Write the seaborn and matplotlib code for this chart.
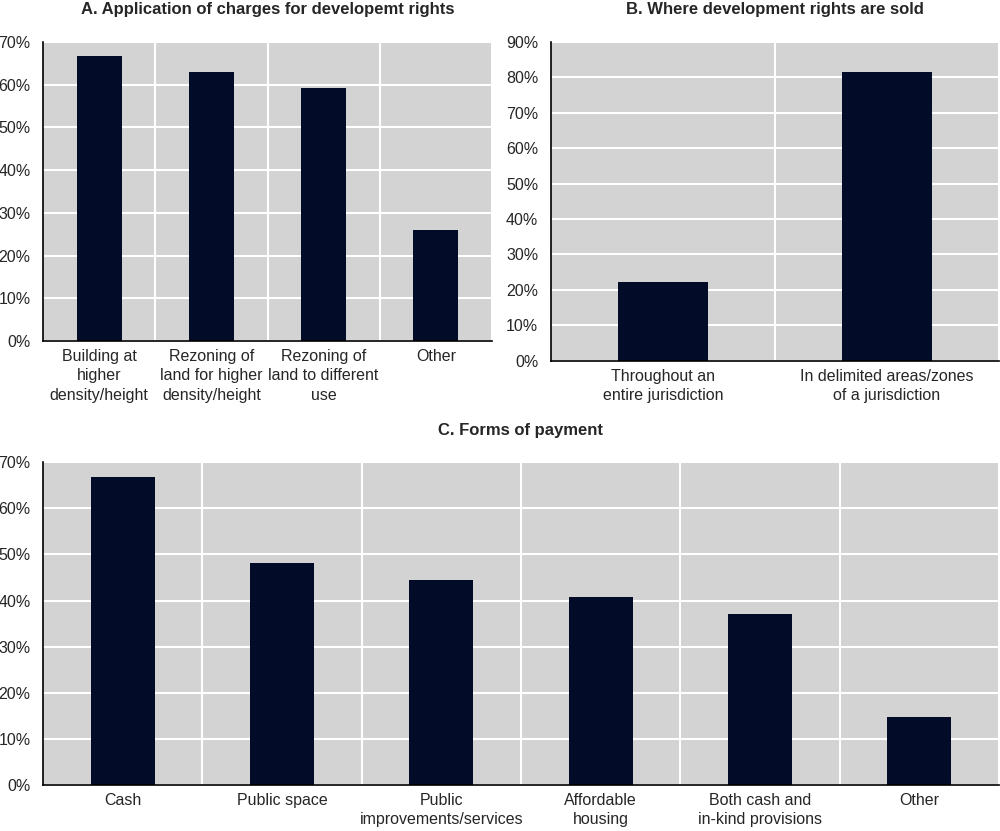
import matplotlib
matplotlib.use("Agg")
import matplotlib.pyplot as plt
import matplotlib.ticker as mticker
import pandas as pd
import seaborn as sns

# Panel A
a_title = "A. Application of charges for developemt rights"
a_labels = ["Building at\nhigher\ndensity/height", "Rezoning of\nland for higher\ndensity/height",
            "Rezoning of\nland to different\nuse", "Other"]
a_values = [66.7, 63.0, 59.3, 25.9]

# Panel B
b_title = "B. Where development rights are sold"
b_labels = ["Throughout an\nentire jurisdiction", "In delimited areas/zones\nof a jurisdiction"]
b_values = [22.2, 81.5]

# Panel C
c_title = "C. Forms of payment"
c_labels = ["Cash", "Public space", "Public\nimprovements/services", "Affordable\nhousing",
            "Both cash and\nin-kind provisions", "Other"]
c_values = [66.7, 48.1, 44.4, 40.7, 37.0, 14.8]

BAR = "#020b27"
BG = "#d3d3d3"

sns.set_style("white")
plt.rcParams["font.family"] = ["Liberation Sans Narrow", "Liberation Sans", "DejaVu Sans"]


def panel(ax, labels, values, title, ymax, step):
    df = pd.DataFrame({"cat": labels, "val": values})
    sns.barplot(data=df, x="cat", y="val", color=BAR, width=0.4, saturation=1, ax=ax,
                zorder=3, linewidth=0, edgecolor=BAR)
    n = len(labels)
    ax.set_facecolor(BG)
    ax.set_xlim(-0.5, n - 0.5)
    ax.set_ylim(0, ymax)
    ax.yaxis.set_major_locator(mticker.MultipleLocator(step))
    ax.yaxis.set_major_formatter(mticker.FuncFormatter(lambda v, p: f"{v:.0f}%"))
    ax.xaxis.set_minor_locator(mticker.FixedLocator([i + 0.5 for i in range(n)]))
    ax.grid(True, axis="y", which="major", color="white", lw=1.5, zorder=0)
    ax.grid(True, axis="x", which="minor", color="white", lw=1.5, zorder=0)
    ax.set_axisbelow(True)
    for s in ["top", "right"]:
        ax.spines[s].set_visible(False)
    for s in ["left", "bottom"]:
        ax.spines[s].set_color("black")
        ax.spines[s].set_linewidth(1.2)
        ax.spines[s].set_zorder(4)
    ax.tick_params(axis="x", which="major", length=0, pad=6, labelsize=11.5)
    ax.tick_params(axis="x", which="minor", direction="in", length=4, width=1, color="black")
    ax.tick_params(axis="y", direction="in", length=4, width=1, color="black", pad=9, labelsize=11.5)
    plt.setp(ax.get_xticklabels(), linespacing=1.35)
    ax.set_xlabel("")
    ax.set_ylabel("")
    ax.set_title(title, fontsize=12, fontweight="bold", pad=20)


fig = plt.figure(figsize=(10, 8.31), dpi=100)
ax_a = fig.add_axes([0.043, 0.5897, 0.449, 0.3598])
ax_b = fig.add_axes([0.5507, 0.566, 0.4483, 0.3835])
ax_c = fig.add_axes([0.043, 0.0554, 0.956, 0.3883])

panel(ax_a, a_labels, a_values, a_title, 70, 10)
panel(ax_b, b_labels, b_values, b_title, 90, 10)
panel(ax_c, c_labels, c_values, c_title, 70, 10)

fig.savefig("out.png", dpi=100)
